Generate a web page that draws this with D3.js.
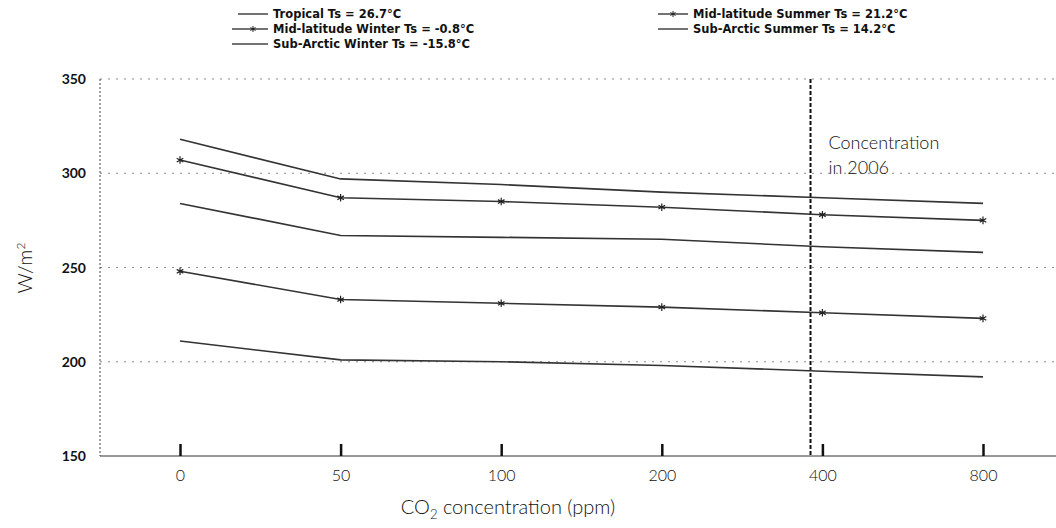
<!DOCTYPE html>
<html>
<head>
<meta charset="utf-8">
<script src="https://cdn.jsdelivr.net/npm/d3@7"></script>
<style>
  body { margin: 0; background: #fff; }
  text { font-family: Lato, "Open Sans", sans-serif; fill: #111; }
</style>
</head>
<body>
<div id="chart"></div>
<script>
const concentrations = ['0', '50', '100', '200', '400', '800'];
const yTicks = [150, 200, 250, 300, 350];

const tropical = [318, 297, 294, 290, 287, 284];
const midLatSummer = [307, 287, 285, 282, 278, 275];
const subArcticSummer = [284, 267, 266, 265, 261, 258];
const midLatWinter = [248, 233, 231, 229, 226, 223];
const subArcticWinter = [211, 201, 200, 198, 195, 192];

const series = [
  { name: 'Tropical Ts = 26.7°C', values: tropical, marker: false, col: 0, row: 0 },
  { name: 'Mid-latitude Summer Ts = 21.2°C', values: midLatSummer, marker: true, col: 1, row: 0 },
  { name: 'Sub-Arctic Summer Ts = 14.2°C', values: subArcticSummer, marker: false, col: 1, row: 1 },
  { name: 'Mid-latitude Winter Ts = -0.8°C', values: midLatWinter, marker: true, col: 0, row: 1 },
  { name: 'Sub-Arctic Winter Ts = -15.8°C', values: subArcticWinter, marker: false, col: 0, row: 2 }
];

const marker2006 = 380;

const margin = { top: 79, right: 0, bottom: 72, left: 100 };
const width = 1056 - margin.left - margin.right;
const height = 528 - margin.top - margin.bottom;

const svg = d3.select('#chart')
  .append('svg')
  .attr('width', 1056)
  .attr('height', 528);

const container = svg.append('g')
  .attr('transform', `translate(${margin.left},${margin.top})`);

const xScale = d3.scalePoint()
  .domain(concentrations)
  .range([80, 883]);

const yScale = d3.scaleLinear()
  .domain([150, 350])
  .range([height, 0]);

// dotted grid lines
container.selectAll('.grid')
  .data(yTicks.filter((d) => d > 150))
  .enter()
  .append('line')
  .attr('class', 'grid')
  .attr('x1', 0)
  .attr('x2', width)
  .attr('y1', (d) => yScale(d))
  .attr('y2', (d) => yScale(d))
  .attr('stroke', '#888')
  .attr('stroke-width', 1)
  .attr('stroke-dasharray', '2,6');

// left axis line, dotted
container.append('line')
  .attr('x1', 0).attr('x2', 0)
  .attr('y1', 0).attr('y2', height)
  .attr('stroke', '#444')
  .attr('stroke-dasharray', '2,2');

// y tick labels
container.selectAll('.ylab')
  .data(yTicks)
  .enter()
  .append('text')
  .attr('x', -14)
  .attr('y', (d) => yScale(d) + 5)
  .attr('text-anchor', 'end')
  .style('font-size', '14px')
  .style('font-weight', 'bold')
  .text((d) => d);

// bottom axis with upward ticks
const xAxis = container.append('g')
  .attr('transform', `translate(0,${height})`)
  .call(d3.axisBottom(xScale).tickSize(0).tickPadding(14));
xAxis.select('.domain').attr('d', `M0,0H${width}`).attr('stroke', '#333');
xAxis.selectAll('.tick text')
  .style('font-size', '16px')
  .style('font-weight', '300')
  .style('font-family', 'Lato, sans-serif');
xAxis.selectAll('.tick')
  .append('line')
  .attr('y1', 0)
  .attr('y2', -12)
  .attr('stroke', '#111')
  .attr('stroke-width', 2.5);

// vertical dashed line at 2006 concentration (log spacing between ticks)
const step = xScale.step();
const x2006 = xScale('200') + Math.log2(marker2006 / 200) * step;
container.append('line')
  .attr('x1', x2006).attr('x2', x2006)
  .attr('y1', 0).attr('y2', height)
  .attr('stroke', '#111')
  .attr('stroke-width', 2)
  .attr('stroke-dasharray', '4,2');

container.append('text')
  .attr('x', x2006 + 18)
  .attr('y', 70)
  .style('font-size', '18px')
  .style('font-weight', '300')
  .text('Concentration');
container.append('text')
  .attr('x', x2006 + 18)
  .attr('y', 95)
  .style('font-size', '18px')
  .style('font-weight', '300')
  .text('in 2006');

// series lines
const line = d3.line()
  .x((d, i) => xScale(concentrations[i]))
  .y((d) => yScale(d));

container.selectAll('.series')
  .data(series)
  .enter()
  .append('path')
  .attr('class', 'series')
  .attr('d', (d) => line(d.values))
  .attr('fill', 'none')
  .attr('stroke', '#333')
  .attr('stroke-width', 1.6);

const markerSymbol = d3.symbol().type(d3.symbolAsterisk || d3.symbolCross).size(40);
series.filter((s) => s.marker).forEach((s) => {
  container.selectAll(null)
    .data(s.values)
    .enter()
    .append('path')
    .attr('d', markerSymbol)
    .attr('transform', (d, i) => `translate(${xScale(concentrations[i])},${yScale(d)})`)
    .attr('fill', '#222')
    .attr('stroke', '#222')
    .attr('stroke-width', 1.2);
});

// axis titles
svg.append('text')
  .attr('transform', 'translate(32,268) rotate(-90)')
  .attr('text-anchor', 'middle')
  .style('font-size', '20px')
  .style('font-weight', '300')
  .html('W/m<tspan dy="-7" font-size="12">2</tspan>');

svg.append('text')
  .attr('x', 508)
  .attr('y', 514)
  .attr('text-anchor', 'middle')
  .style('font-size', '20px')
  .style('font-weight', '300')
  .html('CO<tspan dy="5" font-size="13">2</tspan><tspan dy="-5"> concentration (ppm)</tspan>');

// legend
const legendCols = [238, 658];
const legend = svg.selectAll('.legend')
  .data(series)
  .enter()
  .append('g')
  .attr('class', 'legend')
  .attr('transform', (d) => `translate(${legendCols[d.col]},${14 + d.row * 15})`);

legend.append('line')
  .attr('x1', (d) => (d.row > 0 && d.col === 0 ? -6 : 0)).attr('x2', 30)
  .attr('y1', 0).attr('y2', 0)
  .attr('stroke', '#444')
  .attr('stroke-width', 1.5);
legend.filter((d) => d.marker)
  .append('path')
  .attr('d', d3.symbol().type(d3.symbolAsterisk || d3.symbolCross).size(24))
  .attr('transform', 'translate(15,0)')
  .attr('stroke', '#222')
  .attr('fill', '#222');
legend.append('text')
  .attr('x', 35)
  .attr('y', 4)
  .style('font-family', '"DejaVu Sans", sans-serif')
  .style('font-size', '11.5px')
  .style('font-weight', 'bold')
  .text((d) => d.name);
</script>
</body>
</html>
